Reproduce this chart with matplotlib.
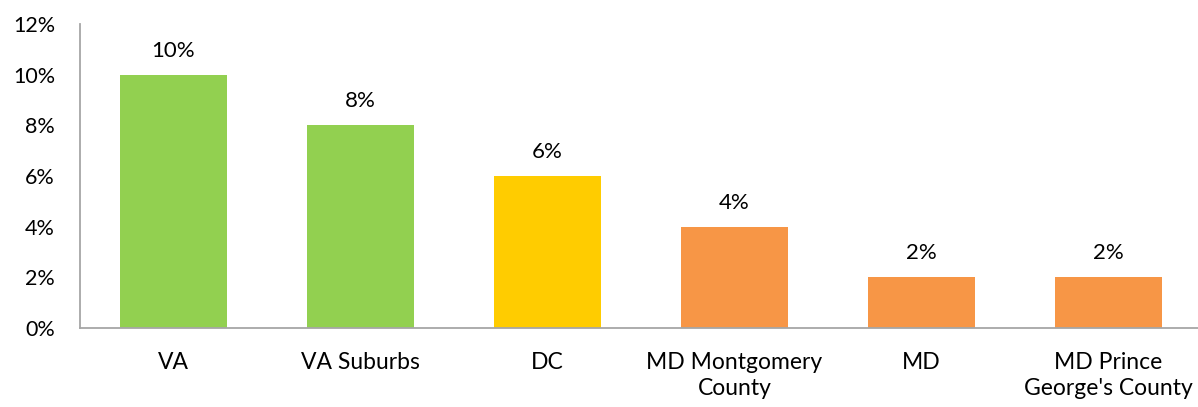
import matplotlib
matplotlib.use("Agg")
import matplotlib.pyplot as plt
from matplotlib.ticker import FuncFormatter

plt.rcParams['font.family'] = ['Lato', 'DejaVu Sans']

categories = ["VA", "VA Suburbs", "DC", "MD Montgomery\nCounty", "MD", "MD Prince\nGeorge's County"]
values = [10, 8, 6, 4, 2, 2]
bar_colors = ["#92D050", "#92D050", "#FFCC00", "#F79646", "#F79646", "#F79646"]
yticks = [0, 2, 4, 6, 8, 10, 12]

W, H = 1198, 407
fig = plt.figure(figsize=(W / 100, H / 100), dpi=100)
ax = fig.add_axes([80 / W, 79 / H, 1122 / W, 304 / H])

x = list(range(len(categories)))
bars = ax.bar(x, values, width=0.57, color=bar_colors, zorder=2)

for xi, v in zip(x, values):
    ax.annotate(f"{v}%", (xi, v), xytext=(0, 10), textcoords="offset points",
                ha="center", va="bottom", fontsize=16, color="#000000")

ax.set_xlim(-0.5, len(categories) - 0.5)
ax.set_ylim(0, 12)
ax.set_yticks(yticks)
ax.yaxis.set_major_formatter(FuncFormatter(lambda v, p: f"{v:.0f}%"))
ax.set_xticks(x)
ax.set_xticklabels(categories, fontsize=16.5, linespacing=1.3)
ax.tick_params(axis="y", length=0, pad=18, labelsize=15.5)
ax.tick_params(axis="x", length=0, pad=17)

for side in ("top", "right"):
    ax.spines[side].set_visible(False)
for side in ("left", "bottom"):
    ax.spines[side].set_color("#A6A6A6")
    ax.spines[side].set_linewidth(1.3)

fig.savefig("out.png", dpi=100)
